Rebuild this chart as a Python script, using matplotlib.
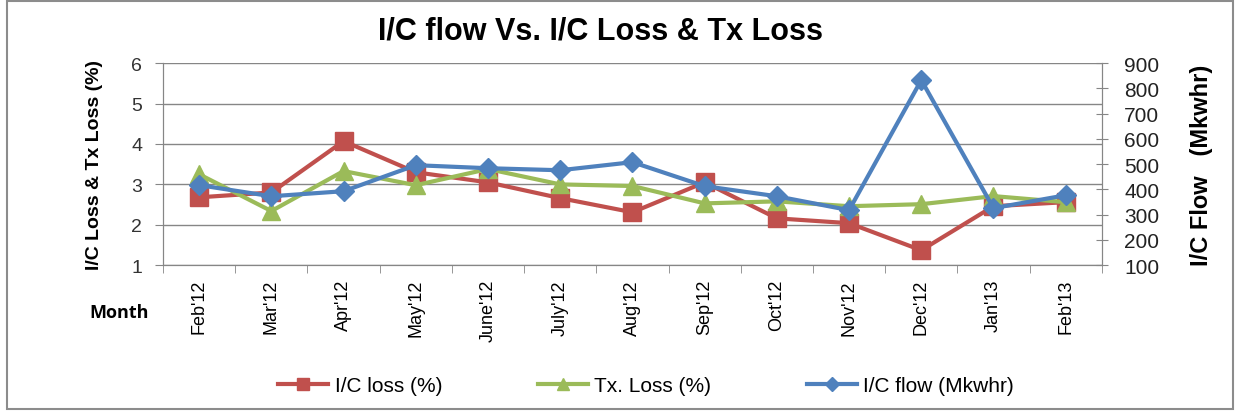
import numpy as np
import matplotlib
matplotlib.use("Agg")
import matplotlib.pyplot as plt
from matplotlib.patches import Rectangle

months = ["Feb'12", "Mar'12", "Apr'12", "May'12", "June'12", "July'12", "Aug'12",
          "Sep'12", "Oct'12", "Nov'12", "Dec'12", "Jan'13", "Feb'13"]
ic_loss = [2.68, 2.80, 4.07, 3.30, 3.05, 2.66, 2.31, 3.05, 2.16, 2.04, 1.37, 2.46, 2.56]
tx_loss = [3.25, 2.34, 3.33, 2.98, 3.38, 3.00, 2.96, 2.53, 2.58, 2.46, 2.51, 2.71, 2.56]
ic_flow = [417, 373, 393, 496, 484, 476, 508, 413, 373, 318, 833, 326, 377]

plt.rcParams['font.family'] = ['Liberation Sans', 'DejaVu Sans']
red, green, blue = '#C0504D', '#9BBB59', '#4F81BD'
grey = '#868686'

fig = plt.figure(figsize=(12.38, 4.14), dpi=100)
fig.patches.append(Rectangle((0.006, 0.01), 0.99, 0.985, transform=fig.transFigure,
                             fill=False, edgecolor='#8c8c8c', linewidth=1.5))

ax = fig.add_axes([0.1317, 0.357, 0.7583, 0.488])
ax2 = ax.twinx()

x = np.arange(len(months))
l1, = ax.plot(x, ic_loss, color=red, lw=3, marker='s', ms=13, label='I/C loss (%)')
l2, = ax.plot(x, tx_loss, color=green, lw=3, marker='^', ms=13, label='Tx. Loss (%)')
l3, = ax2.plot(x, ic_flow, color=blue, lw=3, marker='D', ms=10, label='I/C flow (Mkwhr)')

ax.set_xlim(-0.5, len(months) - 0.5)
ax.set_ylim(1, 6)
ax.set_yticks([1, 2, 3, 4, 5, 6])
ax2.set_ylim(100, 900)
ax2.set_yticks(range(100, 1000, 100))

ax.set_xticks(x)
ax.set_xticklabels(months, rotation=90, fontsize=13)
ax.set_xticks(np.arange(-0.5, len(months)), minor=True)
ax.tick_params(axis='x', which='major', length=0, pad=10)
ax.tick_params(axis='x', which='minor', length=6, color=grey, direction='out')
ax.tick_params(axis='y', length=6, color=grey, labelsize=14, labelcolor='#333333', pad=9)
ax2.tick_params(axis='y', length=8, color=grey, direction='inout', labelsize=15,
                labelcolor='#222222', pad=12)
ax.grid(axis='y', color=grey, lw=1)
for a in (ax, ax2):
    for s in a.spines.values():
        s.set_color(grey)
    a.spines['top'].set_visible(False)

ax.set_ylabel('I/C Loss & Tx Loss (%)', fontsize=14, fontweight='bold', labelpad=20)
ax2.set_ylabel('I/C Flow   (Mkwhr)', fontsize=17, fontweight='bold', labelpad=22)

fig.text(0.485, 0.925, 'I/C flow Vs. I/C Loss & Tx Loss', ha='center', va='center',
         fontsize=22, fontweight='bold')
fig.text(0.096, 0.245, 'Month', ha='center', va='center', fontsize=13, fontweight='bold',
         family=['Open Sans', 'DejaVu Sans'])

fig.legend(handles=[l1, l2, l3], loc='center', bbox_to_anchor=(0.522, 0.066), ncol=3,
           frameon=False, fontsize=15, columnspacing=4.6, handlelength=2.4,
           handletextpad=0.3, markerscale=0.7)

fig.savefig('out.png', dpi=100)
